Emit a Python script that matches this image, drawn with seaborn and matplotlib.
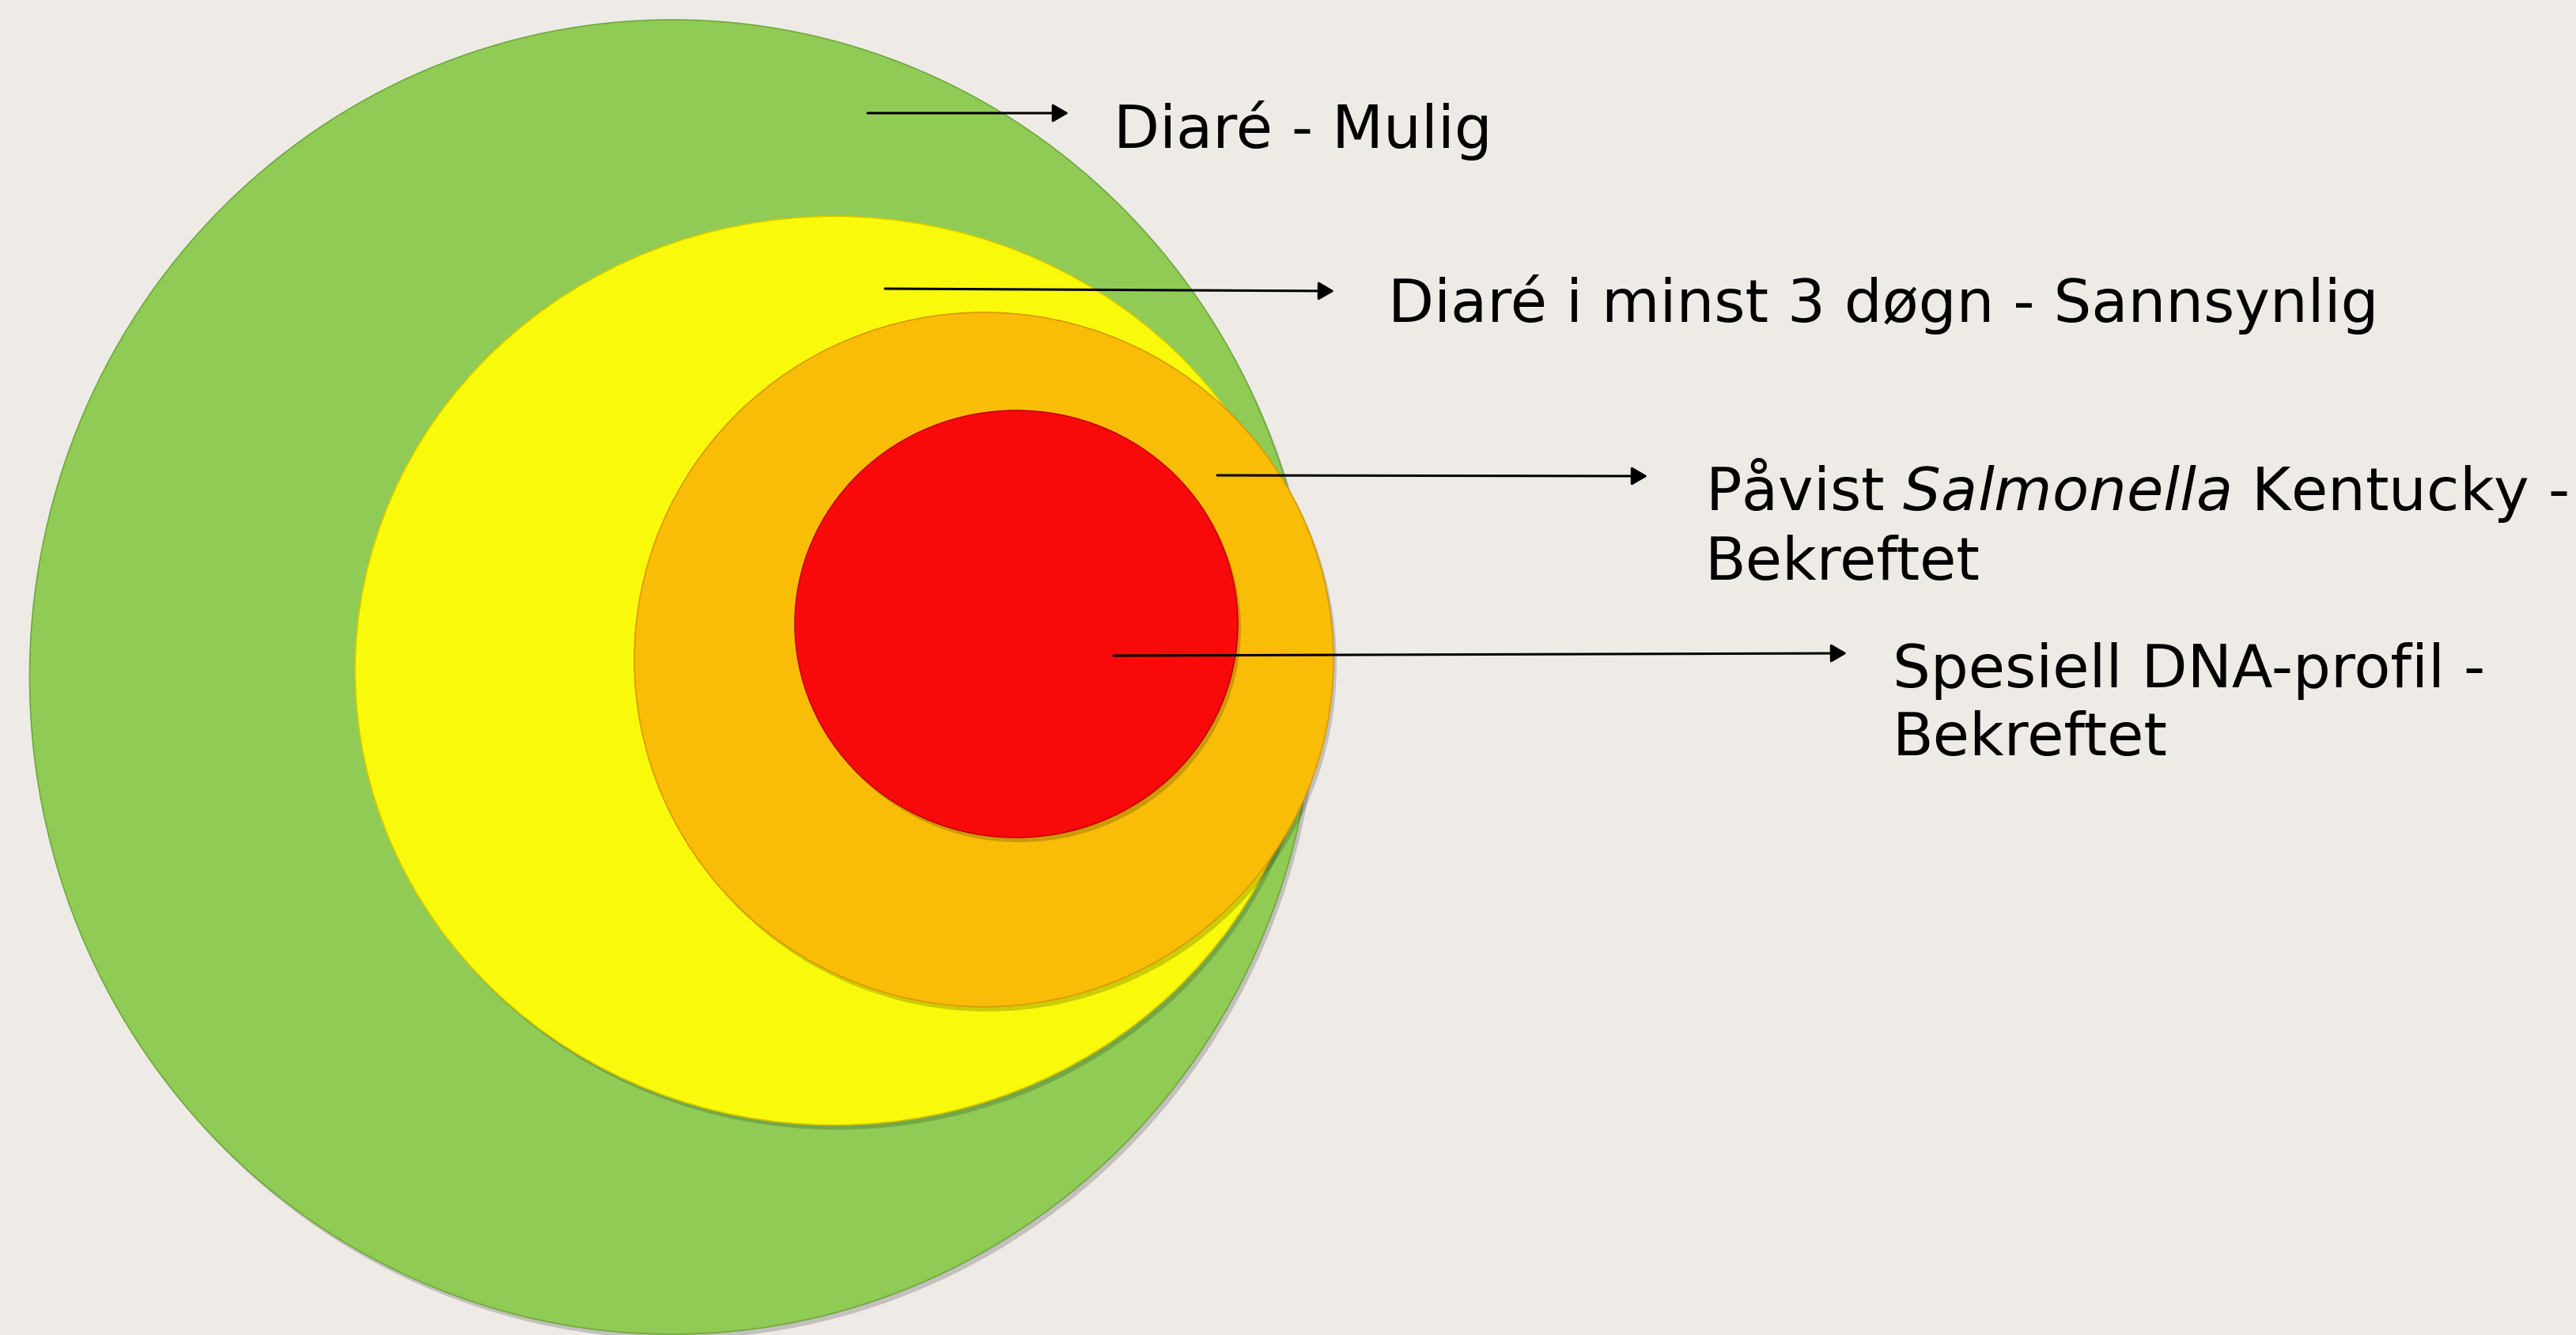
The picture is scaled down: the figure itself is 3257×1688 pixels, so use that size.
import matplotlib
matplotlib.use("Agg")
import matplotlib.pyplot as plt
import seaborn as sns
from matplotlib.patches import Ellipse

# ring data (pixel space of the 3257x1688 canvas, y grows downward)
ring_names = ["Mulig", "Sannsynlig", "Bekreftet (Salmonella)", "Bekreftet (DNA)"]
ring_colors = ["#90CC55", "#F9F90B", "#F9BD08", "#F90A0A"]
ring_edges = ["#6FA83C", "#D8C800", "#D89A00", "#C80000"]
ring_cx = [850, 1055, 1244, 1285]
ring_cy = [856, 848, 834, 789]
ring_w = [1625, 1212, 884, 560]
ring_h = [1662, 1149, 878, 540]

# arrows: start and end of each pointer
arrow_x0 = [1097, 1119, 1539, 1408]
arrow_y0 = [143, 365, 601, 829]
arrow_x1 = [1351, 1687, 2083, 2335]
arrow_y1 = [143, 368, 602, 826]

# labels (y = baseline of the last line)
label_texts = [
    "Diaré - Mulig",
    "Diaré i minst 3 døgn - Sannsynlig",
    "Påvist $\\it{Salmonella}$ Kentucky -\nBekreftet",
    "Spesiell DNA-profil -\nBekreftet",
]
label_x = [1408, 1755, 2156, 2393]
label_y = [187, 407, 733, 955]

bg = "#EEEBE7"

sns.set_style("white", {"axes.facecolor": bg, "figure.facecolor": bg})
plt.rcParams["font.family"] = ["DejaVu Sans"]
plt.rcParams["mathtext.fontset"] = "dejavusans"

fig = plt.figure(figsize=(32.57, 16.88), dpi=100)
fig.patch.set_facecolor(bg)
ax = fig.add_axes([0, 0, 1, 1])
ax.set_facecolor(bg)
ax.set_xlim(0, 3257)
ax.set_ylim(1688, 0)
ax.axis("off")

palette = sns.color_palette(ring_colors)
for i in range(len(ring_names)):
    # soft drop shadow
    ax.add_patch(Ellipse((ring_cx[i] + 4, ring_cy[i] + 6), ring_w[i], ring_h[i],
                         facecolor="#000000", alpha=0.18, edgecolor="none", zorder=2 * i + 1))
    ax.add_patch(Ellipse((ring_cx[i], ring_cy[i]), ring_w[i], ring_h[i],
                         facecolor=palette[i], edgecolor=ring_edges[i], lw=1.2,
                         zorder=2 * i + 2))

for i in range(len(arrow_x0)):
    ax.annotate("", xy=(arrow_x1[i], arrow_y1[i]), xytext=(arrow_x0[i], arrow_y0[i]),
                arrowprops=dict(arrowstyle="-|>,head_length=0.6,head_width=0.35",
                                mutation_scale=20, lw=2.2, color="black",
                                shrinkA=0, shrinkB=0),
                zorder=20)

for i in range(len(label_texts)):
    ax.text(label_x[i], label_y[i], label_texts[i], fontsize=54.3, color="black",
            ha="left", va="baseline", linespacing=1.22, zorder=21)

fig.savefig("out.png", dpi=100, facecolor=bg)
